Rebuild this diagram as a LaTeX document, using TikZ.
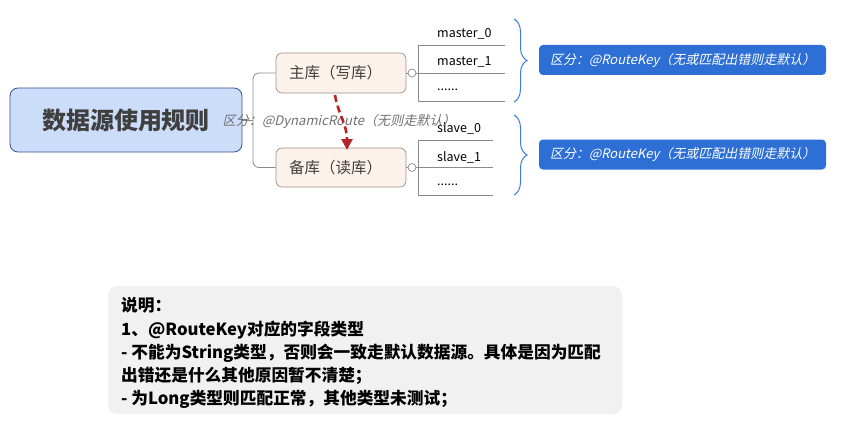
\documentclass[tikz,border=0pt]{standalone}
\usepackage{fontspec}
\setmainfont{Noto Sans CJK SC}
\newfontfamily\slfont[FakeSlant=0.22]{Noto Sans CJK SC}
\usetikzlibrary{decorations.pathreplacing,arrows.meta}
\definecolor{rootfill}{HTML}{CCDDFA}
\definecolor{rootdraw}{HTML}{3A5590}
\definecolor{subfill}{HTML}{FDF2E9}
\definecolor{subdraw}{HTML}{9D9189}
\definecolor{keyblue}{HTML}{2D6FD5}
\definecolor{bracecol}{HTML}{3B7DDD}
\definecolor{linegray}{HTML}{8A8A8A}
\definecolor{notefill}{HTML}{F1F1F1}
\definecolor{arrowred}{HTML}{B52525}
\definecolor{txtgray}{HTML}{3F3F3F}
\definecolor{lblgray}{HTML}{707070}
\tikzset{
  rootbox/.style={draw=rootdraw, fill=rootfill, rounded corners=8pt, line width=0.8pt,
    minimum width=232, minimum height=64, inner sep=0pt, text=txtgray,
    font=\fontsize{24}{28}\selectfont\bfseries},
  subbox/.style={draw=subdraw, fill=subfill, rounded corners=6pt, line width=0.7pt,
    minimum width=130, minimum height=40, inner sep=0pt, text=txtgray,
    font=\fontsize{15.5}{19}\selectfont},
  conn/.style={draw=linegray, line width=0.8pt},
  fold/.style={circle, draw=linegray, fill=white, line width=0.7pt, minimum size=8, inner sep=0pt},
  leaf/.style={anchor=west, inner sep=0pt, text=black, font=\fontsize{12.5}{15}\selectfont},
  keybox/.style={fill=keyblue, rounded corners=4pt, minimum width=287, minimum height=30,
    inner sep=0pt, text=white, font=\fontsize{13}{15}\slfont},
  bracestyle/.style={draw=bracecol, line width=1pt, decorate,
    decoration={brace, amplitude=13pt}},
  redarrow/.style={draw=arrowred, line width=2.6pt, dash pattern=on 7pt off 4pt,
    -{Triangle[length=11pt,width=11pt]}},
}
\begin{document}
\begin{tikzpicture}[x=1pt,y=-1pt]
\path[use as bounding box] (0,0) rectangle (855,436);

% root
\node[rootbox] (root) at (126,120) {数据源使用规则};

% sub boxes
\node[subbox] (mz) at (341,73) {\makebox[130pt][l]{\hspace{13pt}主库（写库）}};
\node[subbox, minimum height=39] (bk) at (341,167.5) {\makebox[130pt][l]{\hspace{13pt}备库（读库）}};

% trunk
\coordinate (tr) at (253,120);
\draw[conn] (root.east) -- (tr);
\draw[conn, rounded corners=6pt] (mz.west) -| (tr) |- (bk.west);

% fold circles
\node[fold] (c1) at (412,73) {};
\node[fold] (c2) at (412,167.5) {};
\draw[conn] (mz.east) -- (c1.west);
\draw[conn] (bk.east) -- (c2.west);

% master leaves
\coordinate (mt) at (418,45);
\coordinate (mm) at (418,73);
\coordinate (mb) at (418,101);
\coordinate (mte) at (505,45);
\coordinate (mme) at (505,73);
\coordinate (mbe) at (505,101);
\draw[conn] (c1.east) -- (mm);
\draw[conn] (mt) -- (mb);
\draw[conn] (mt) -- (mte);
\draw[conn] (mm) -- (mme);
\draw[conn] (mb) -- (mbe);
\node[leaf] (m0) at (437,33.5) {master\_0};
\node[leaf] (m1) at (437,62) {master\_1};
\node[leaf] (m2) at (437,90) {......};

% slave leaves
\coordinate (st) at (418,140);
\coordinate (sm) at (418,167.5);
\coordinate (sb) at (418,195);
\coordinate (ste) at (493,140);
\coordinate (sme) at (493,167.5);
\coordinate (sbe) at (493,195);
\draw[conn] (c2.east) -- (sm);
\draw[conn] (st) -- (sb);
\draw[conn] (st) -- (ste);
\draw[conn] (sm) -- (sme);
\draw[conn] (sb) -- (sbe);
\node[leaf] (s0) at (437,128.5) {slave\_0};
\node[leaf] (s1) at (437,157) {slave\_1};
\node[leaf] (s2) at (437,185) {......};

% braces
\coordinate (b1t) at (514,19);
\coordinate (b1b) at (514,102);
\coordinate (b2t) at (514,115);
\coordinate (b2b) at (514,195);
\draw[bracestyle] (b1t) -- (b1b);
\draw[bracestyle] (b2t) -- (b2b);

% key boxes
\node[keybox] (k1) at (682.5,60) {\makebox[265pt][l]{区分：@RouteKey（无或匹配出错则走默认）}};
\node[keybox] (k2) at (682.5,154.5) {\makebox[265pt][l]{区分：@RouteKey（无或匹配出错则走默认）}};

% dynamic route label
\node[anchor=west, inner sep=0pt, text=lblgray, font=\fontsize{13.1}{15}\slfont] (dr) at (222.5,121) {区分：@DynamicRoute（无则走默认）};

% red arrow
\coordinate (as) at (335,95);
\coordinate (ae) at (347,150);
\draw[redarrow] (as) .. controls (338,114) and (347,124) .. (ae);

% note
\node[fill=notefill, rounded corners=9pt, minimum width=514, minimum height=128, inner sep=0pt] (note) at (365,350) {};
\node[anchor=north west, inner sep=0pt, align=left, text=black,
  font=\fontsize{16.7}{23.2}\selectfont\bfseries] (nt) at (121,297.5) {说明：\\1、@RouteKey对应的字段类型\\- 不能为String类型，否则会一致走默认数据源。具体是因为匹配\\出错还是什么其他原因暂不清楚；\\- 为Long类型则匹配正常，其他类型未测试；};
\end{tikzpicture}
\end{document}
